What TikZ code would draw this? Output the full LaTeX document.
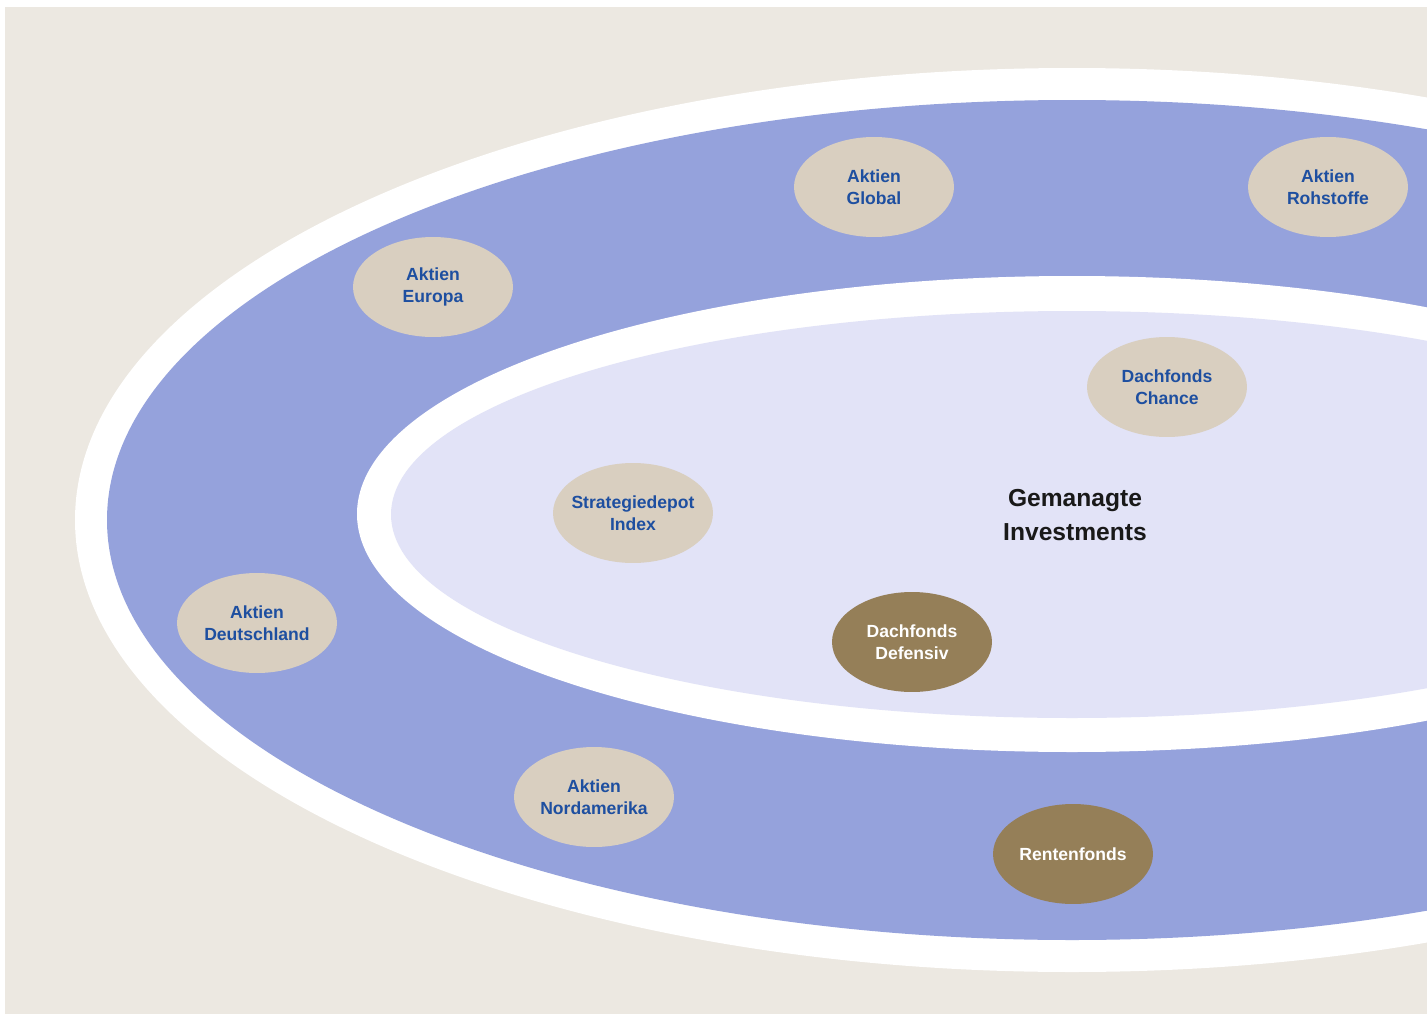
\documentclass[tikz,border=0pt]{standalone}
\usepackage{fontspec}
\setmainfont{Liberation Sans}
\usepackage{xcolor}
\usepackage{tikz}
\usetikzlibrary{calc,positioning,shapes.geometric}

\definecolor{hintergrund}{HTML}{ECE8E1}
\definecolor{ringblau}{HTML}{95A2DC}
\definecolor{innenlila}{HTML}{E2E3F7}
\definecolor{fondshell}{HTML}{D9CFC0}
\definecolor{fondsdunkel}{HTML}{957F58}
\definecolor{schriftblau}{HTML}{1E4FA0}

\tikzset{
  fonds/.style={ellipse,fill=fondshell,minimum width=3.2cm,minimum height=2cm,inner sep=0pt,
    align=center,font=\fontsize{10}{12.5}\selectfont\bfseries,text=schriftblau},
  fondsdk/.style={fonds,fill=fondsdunkel,text=white}
}

\begin{document}
\begin{tikzpicture}[x=0.02cm,y=-0.02cm]
  \useasboundingbox (0,0) rectangle (1427,1014);
  \fill[hintergrund] (5,7) rectangle (1427,1014);
  \clip (5,7) rectangle (1427,1014); %右侧椭圆超出画面
  \fill[white] (1072,520) ellipse [x radius=997, y radius=452];
  \fill[ringblau] (1072,520) ellipse [x radius=965, y radius=420];
  \fill[white] (1072,514) ellipse [x radius=715, y radius=238];
  \fill[innenlila] (1072,514.5) ellipse [x radius=681, y radius=203.5];
  % 外环
  \node[fonds] (global) at (874,187) {Aktien\\Global};
  \node[fonds] (rohstoffe) at (1328,187) {Aktien\\Rohstoffe};
  \node[fonds] (europa) at (433,287) {Aktien\\Europa};
  \node[fonds] (deutschland) at (257,623) {Aktien\\Deutschland};
  \node[fonds] (nordamerika) at (594,797) {Aktien\\Nordamerika};
  \node[fondsdk] (renten) at (1073,854) {Rentenfonds};
  % 内圈
  \node[fonds] (chance) at (1167,387) {Dachfonds\\Chance};
  \node[fonds,inner xsep=-6pt] (index) at (633,513) {Strategiedepot\\Index};
  \node[fondsdk] (defensiv) at (912,642) {Dachfonds\\Defensiv};
  \node[align=center,font=\fontsize{14}{19}\selectfont\bfseries,text=black!90] (mitte) at (1075,515) {Gemanagte\\Investments};
\end{tikzpicture}
\end{document}
